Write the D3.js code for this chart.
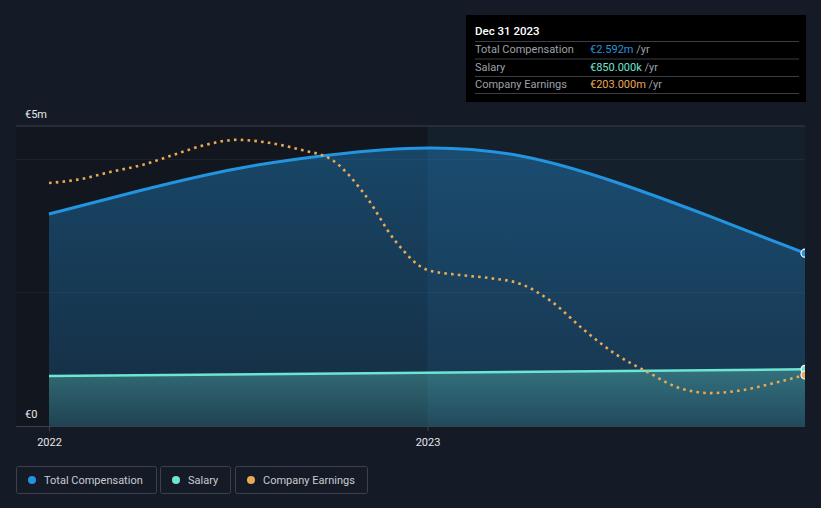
<!DOCTYPE html>
<html>
<head>
<meta charset="utf-8">
<script src="https://cdn.jsdelivr.net/npm/d3@7"></script>
<style>
  html, body { margin: 0; padding: 0; background: #151b26; }
  svg { display: block; font-family: Roboto, "Noto Sans", sans-serif; }
</style>
</head>
<body>
<svg id="chart" width="821" height="508"></svg>
<script>
// ---- data ----
const compDates = ["2022-01-01","2022-04-01","2022-07-01","2022-10-01","2023-01-01","2023-04-01","2023-07-01","2023-10-01","2023-12-31"];
const totalComp = [3.18e6, 3.54e6, 3.86e6, 4.07e6, 4.17e6, 4.05e6, 3.66e6, 3.14e6, 2.592e6];
const salaryDates = ["2022-01-01","2023-12-31"];
const salary = [0.75e6, 0.85e6];
const earnDates = ["2022-01-01","2022-02-01","2022-03-01","2022-04-01","2022-05-01","2022-06-01","2022-07-01","2022-08-01","2022-09-01","2022-10-01","2022-11-01","2022-12-01","2023-01-01","2023-02-01","2023-03-01","2023-04-01","2023-05-01","2023-06-01","2023-07-01","2023-08-01","2023-09-01","2023-10-01","2023-11-01","2023-12-01","2023-12-31"];
const earnings = [967e6, 983e6, 1011e6, 1039e6, 1079e6, 1119e6, 1139e6, 1127e6, 1099e6, 1059e6, 924e6, 736e6, 621e6, 601e6, 589e6, 565e6, 494e6, 382e6, 287e6, 215e6, 151e6, 131e6, 143e6, 171e6, 203e6];
const yTickLabels = ["€0", "€5m"];
const xTickDates = ["2022-01-01", "2023-01-01"];
const xTickLabels = ["2022", "2023"];
const gridValues = [2e6, 4e6];
const legendItems = ["Total Compensation", "Salary", "Company Earnings"];
const colors = ["#2394df", "#6de5d3", "#e9a955"];
const tooltipTitle = "Dec 31 2023";
const tooltipRows = ["Total Compensation", "Salary", "Company Earnings"];
const tooltipValues = ["€2.592m", "€850.000k", "€203.000m"];

// ---- setup ----
const parse = d3.utcParse("%Y-%m-%d");
const svg = d3.select("#chart");
const L = 16, R = 805, T = 126, B = 426;

const x = d3.scaleUtc().domain([parse("2022-01-01"), parse("2023-12-31")]).range([49, 805]);
const y = d3.scaleLinear().domain([0, 4.5e6]).range([B, T]);
const yE = d3.scaleLinear().domain([0, 1194e6]).range([B, T]);

const comp = compDates.map((d, i) => ({ t: parse(d), v: totalComp[i] }));
const sal = salaryDates.map((d, i) => ({ t: parse(d), v: salary[i] }));
const earn = earnDates.map((d, i) => ({ t: parse(d), v: earnings[i] }));

const defs = svg.append("defs");
defs.append("clipPath").attr("id", "clip").append("rect")
  .attr("x", L).attr("y", T - 10).attr("width", R - L).attr("height", B - T + 10);

const g1 = defs.append("linearGradient").attr("id", "gComp").attr("x1", 0).attr("x2", 0).attr("y1", 0).attr("y2", 1);
g1.append("stop").attr("offset", "0%").attr("stop-color", "#2394df").attr("stop-opacity", 0.38);
g1.append("stop").attr("offset", "100%").attr("stop-color", "#2394df").attr("stop-opacity", 0.18);
const g2 = defs.append("linearGradient").attr("id", "gSal").attr("x1", 0).attr("x2", 0).attr("y1", 0).attr("y2", 1);
g2.append("stop").attr("offset", "0%").attr("stop-color", "#6de5d3").attr("stop-opacity", 0.32);
g2.append("stop").attr("offset", "100%").attr("stop-color", "#6de5d3").attr("stop-opacity", 0.12);

// plot backgrounds: past (darker) and recent (lighter)
const xMid = x(parse("2023-01-01"));
svg.append("rect").attr("x", L).attr("y", T).attr("width", xMid - L).attr("height", B - T).attr("fill", "#12161e");
svg.append("rect").attr("x", xMid).attr("y", T).attr("width", R - xMid).attr("height", B - T).attr("fill", "#15202d");

// gridlines
svg.append("g").selectAll("line").data(gridValues).join("line")
  .attr("x1", L).attr("x2", R).attr("y1", d => y(d)).attr("y2", d => y(d))
  .attr("stroke", "#ffffff").attr("stroke-opacity", 0.06).attr("stroke-width", 1);

const plot = svg.append("g").attr("clip-path", "url(#clip)");
const curveC = d3.curveNatural;
const curve = d3.curveMonotoneX;

// areas
plot.append("path").datum(comp)
  .attr("d", d3.area().x(d => x(d.t)).y0(y(0)).y1(d => y(d.v)).curve(curveC))
  .attr("fill", "url(#gComp)");
plot.append("path").datum(sal)
  .attr("d", d3.area().x(d => x(d.t)).y0(y(0)).y1(d => y(d.v)).curve(curve))
  .attr("fill", "url(#gSal)");

// lines
plot.append("path").datum(comp)
  .attr("d", d3.line().x(d => x(d.t)).y(d => y(d.v)).curve(curveC))
  .attr("fill", "none").attr("stroke", colors[0]).attr("stroke-width", 3);
plot.append("path").datum(sal)
  .attr("d", d3.line().x(d => x(d.t)).y(d => y(d.v)).curve(curve))
  .attr("fill", "none").attr("stroke", colors[1]).attr("stroke-width", 2.5);
plot.append("path").datum(earn)
  .attr("d", d3.line().x(d => x(d.t)).y(d => yE(d.v)).curve(curve))
  .attr("fill", "none").attr("stroke", colors[2]).attr("stroke-width", 2.6)
  .attr("stroke-dasharray", "2.6,4.2");

// end markers
const ends = [
  { px: x(comp[comp.length - 1].t), py: y(comp[comp.length - 1].v), c: colors[0] },
  { px: x(sal[sal.length - 1].t), py: y(sal[sal.length - 1].v), c: colors[1] },
  { px: x(earn[earn.length - 1].t), py: yE(earn[earn.length - 1].v), c: colors[2] }
];
plot.selectAll("circle.end").data(ends).join("circle")
  .attr("class", "end").attr("cx", d => d.px).attr("cy", d => d.py).attr("r", 4)
  .attr("fill", d => d.c).attr("stroke", "#ffffff").attr("stroke-width", 1.2);

// top border line
svg.append("line").attr("x1", L).attr("x2", R).attr("y1", T).attr("y2", T)
  .attr("stroke", "#3b404b").attr("stroke-width", 1);

// x axis
const xAxis = d3.axisBottom(x)
  .tickValues(xTickDates.map(parse))
  .tickFormat((d, i) => xTickLabels[i])
  .tickSize(5).tickSizeOuter(0);
const xg = svg.append("g").attr("transform", `translate(0,${B})`).call(xAxis);
xg.select(".domain").attr("d", `M${L},0.5H${R}`).attr("stroke", "#3b404b");
xg.selectAll(".tick line").attr("stroke", "#3b404b");
xg.selectAll(".tick text").attr("fill", "#e6e7e9").attr("font-size", 11).attr("dy", "1.05em")
  .attr("font-family", "Roboto, sans-serif");

// y labels
svg.append("g").selectAll("text").data(yTickLabels).join("text")
  .attr("x", 25).attr("y", (d, i) => i === 0 ? B - 8 : T - 8)
  .attr("fill", "#e6e7e9").attr("font-size", 11).text(d => d);

// tooltip
const tt = svg.append("g").attr("transform", "translate(466,15)");
tt.append("rect").attr("width", 340).attr("height", 87).attr("fill", "#000000");
tt.append("text").attr("x", 9).attr("y", 20).attr("fill", "#ffffff").attr("font-size", 11.5)
  .attr("font-weight", 500).text(tooltipTitle);
const sepY = [26, 43.5, 61, 78];
tt.selectAll("line").data(sepY).join("line")
  .attr("x1", 9).attr("x2", 333).attr("y1", d => d + 0.5).attr("y2", d => d + 0.5)
  .attr("stroke", "#3a3d43");
const rows = tt.selectAll("g.row").data(tooltipRows).join("g").attr("class", "row")
  .attr("transform", (d, i) => `translate(0,${38 + i * 17.5})`);
rows.append("text").attr("x", 9).attr("fill", "#9da1a8").attr("font-size", 11).text(d => d);
const vt = rows.append("text").attr("x", 124).attr("font-size", 11);
vt.append("tspan").attr("fill", (d, i) => colors[i]).text((d, i) => tooltipValues[i]);
vt.append("tspan").attr("fill", "#9da1a8").text(" /yr");

// legend
const legendBoxes = [[16, 140], [160, 70], [235, 132]];
const lg = svg.append("g").selectAll("g").data(legendItems).join("g")
  .attr("transform", (d, i) => `translate(${legendBoxes[i][0]},466)`);
lg.append("rect").attr("x", 0.5).attr("y", 0.5).attr("width", (d, i) => legendBoxes[i][1]).attr("height", 27)
  .attr("rx", 2).attr("fill", "none").attr("stroke", "#3b404b");
lg.append("circle").attr("cx", 16).attr("cy", 14).attr("r", 4).attr("fill", (d, i) => colors[i]);
lg.append("text").attr("x", 28).attr("y", 18).attr("fill", "#c9cbcf").attr("font-size", 11).text(d => d);
</script>
</body>
</html>
